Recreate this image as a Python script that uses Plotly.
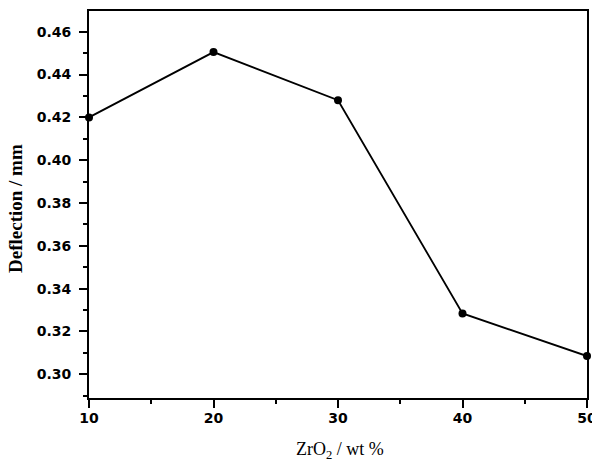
import plotly.graph_objects as go

zro2_wt = [10, 20, 30, 40, 50]
deflection = [0.420, 0.4505, 0.428, 0.3284, 0.3085]
y_ticks = [0.30, 0.32, 0.34, 0.36, 0.38, 0.40, 0.42, 0.44, 0.46]
x_ticks = [10, 20, 30, 40, 50]

W, H = 592, 461
L, R, T, B = 89, 5, 11, 63
pw, ph = W - L - R, H - T - B

fig = go.Figure()
fig.add_trace(go.Scatter(
    x=zro2_wt, y=deflection, mode="lines+markers",
    line=dict(color="black", width=1.8),
    marker=dict(color="black", size=8),
    cliponaxis=False, showlegend=False,
))

tickfont = dict(family="DejaVu Sans", size=14, color="black", weight="bold")
fig.update_layout(
    width=W, height=H,
    margin=dict(l=L, r=R, t=T, b=B, autoexpand=False),
    plot_bgcolor="white", paper_bgcolor="white",
    xaxis=dict(
        range=[10, 50], tickvals=x_ticks, ticktext=[str(v) for v in x_ticks],
        showline=True, linecolor="black", linewidth=2, mirror=True,
        ticks="outside", ticklen=8, tickwidth=2, tickcolor="black",
        minor=dict(dtick=5, ticks="outside", ticklen=4, tickwidth=2, tickcolor="black", tick0=10),
        showgrid=False, zeroline=False, tickfont=tickfont, automargin=False,
        ticklabeloverflow="allow", ticklabelstandoff=-2,
    ),
    yaxis=dict(
        range=[0.2889, 0.4697], tickvals=y_ticks, ticktext=[f"{v:.2f}" for v in y_ticks],
        showline=True, linecolor="black", linewidth=2, mirror=True,
        ticks="outside", ticklen=8, tickwidth=2, tickcolor="black",
        minor=dict(dtick=0.01, tick0=0.30, ticks="outside", ticklen=4, tickwidth=2, tickcolor="black"),
        showgrid=False, zeroline=False, tickfont=tickfont, automargin=False,
        ticklabelstandoff=5,
    ),
    annotations=[
        dict(text="ZrO<sub>2</sub> / wt %", xref="paper", yref="paper",
             x=(340 - L) / pw, y=-(450 - (T + ph)) / ph, xanchor="center", yanchor="middle",
             showarrow=False, font=dict(family="Liberation Serif", size=18, color="black")),
        dict(text="<b>Deflection / mm</b>", xref="paper", yref="paper",
             x=-(L - 15) / pw, y=1 - (209 - T) / ph, xanchor="center", yanchor="middle",
             textangle=-90, showarrow=False,
             font=dict(family="Liberation Serif", size=19, color="black")),
    ],
)
fig.write_html("out.html", config={"displayModeBar": False},
               post_script="document.body.style.margin='0';document.body.style.overflow='hidden';")
